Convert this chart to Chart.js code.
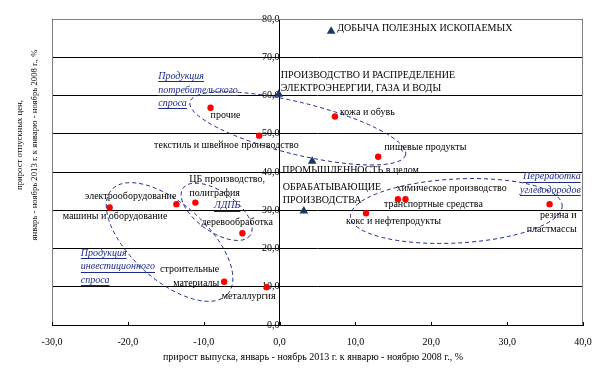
<!DOCTYPE html>
<html>
<head>
<meta charset="utf-8">
<script src="https://cdn.jsdelivr.net/npm/chart.js@4"></script>
<style>
  html, body { margin: 0; padding: 0; background: #fff; }
  #wrap { width: 608px; height: 383px; }
</style>
</head>
<body>
<div id="wrap"><canvas id="chart" width="608" height="383"></canvas></div>
<script>
// Отрасли (красные точки)
const industryNames = ["прочие","кожа и обувь","текстиль и швейное производство","пищевые продукты",
  "электрооборудование","ЦБ производство, полиграфия","машины и оборудование","деревообработка",
  "строительные материалы","металлургия","химическое производство","транспортные средства",
  "кокс и нефтепродукты","резина и пластмассы"];
const industryX = [-9.1, 7.3, -2.7, 13.0, -13.6, -11.1, -22.4, -4.9, -7.3, -1.7, 16.6, 15.6, 11.4, 35.6];
const industryY = [56.8, 54.5, 49.5, 44.0, 31.6, 32.0, 30.7, 24.0, 11.3, 9.9, 32.9, 32.9, 29.2, 31.6];

// Укрупнённые виды деятельности (треугольники)
const sectorNames = ["ДОБЫЧА ПОЛЕЗНЫХ ИСКОПАЕМЫХ","ПРОИЗВОДСТВО И РАСПРЕДЕЛЕНИЕ ЭЛЕКТРОЭНЕРГИИ, ГАЗА И ВОДЫ",
  "ПРОМЫШЛЕННОСТЬ в целом","ОБРАБАТЫВАЮЩИЕ ПРОИЗВОДСТВА"];
const sectorX = [6.8, -0.1, 4.3, 3.2];
const sectorY = [76.8, 60.3, 42.8, 29.8];

// Оси
const xTicks = [-30, -20, -10, 0, 10, 20, 30, 40];
const yTicks = [0, 10, 20, 30, 40, 50, 60, 70, 80];
const xTitle = "прирост выпуска, январь - ноябрь 2013 г. к январю - ноябрю 2008 г., %";
const yTitle = ["прирост отпускных цен,", "январь - ноябрь 2013 г. к январю - ноябрь 2008 г., %"];

// Группы (пунктирные овалы)
const groupNames = [["Продукция","потребительского","спроса"], ["Продукция","инвестиционного","спроса"],
  ["ЛДПБ"], ["Переработка","углеводородов"]];

// Подписи точек: строки, выравнивание, сдвиг в пикселях
const industryLabels = [
  {lines:["прочие"], align:"left", dx:0, dy:8},
  {lines:["кожа и обувь"], align:"left", dx:5, dy:-4},
  {lines:["текстиль и швейное производство"], align:"left", dx:-105, dy:10},
  {lines:["пищевые продукты"], align:"left", dx:6, dy:-9},
  {lines:["электрооборудование"], align:"right", dx:0, dy:-8},
  {lines:["ЦБ производство,","полиграфия"], align:"left", dx:-6, dy:-23},
  {lines:["машины и оборудование"], align:"left", dx:-47, dy:9},
  {lines:["деревообработка"], align:"left", dx:-41, dy:-11},
  {lines:["строительные","материалы"], align:"right", dx:-5, dy:-12},
  {lines:["металлургия"], align:"left", dx:-45, dy:9.5},
  {lines:["химическое производство"], align:"left", dx:-9, dy:-11},
  {lines:["транспортные средства"], align:"left", dx:-14, dy:5},
  {lines:["кокс и нефтепродукты"], align:"left", dx:-20, dy:8},
  {lines:["резина и","пластмассы"], align:"right", dx:27, dy:11.5}
];
const sectorLabels = [
  {lines:["ДОБЫЧА ПОЛЕЗНЫХ ИСКОПАЕМЫХ"], align:"left", dx:6, dy:-3},
  {lines:["ПРОИЗВОДСТВО И РАСПРЕДЕЛЕНИЕ","ЭЛЕКТРОЭНЕРГИИ, ГАЗА И ВОДЫ"], align:"left", dx:2, dy:-19},
  {lines:["ПРОМЫШЛЕННОСТЬ в целом"], align:"left", dx:-30, dy:9.5},
  {lines:["ОБРАБАТЫВАЮЩИЕ","ПРОИЗВОДСТВА"], align:"left", dx:-21, dy:-24}
];
// Подписи групп (в единицах осей) и овалы: центр в единицах осей, полуоси в px, наклон в градусах
const groupLabelPos = [
  {x:-16.0, y:65.0, align:"left"},
  {x:-26.2, y:18.8, align:"left"},
  {x:-6.9, y:31.2, align:"center"},
  {x:39.7, y:38.8, align:"right"}
];
const ellipses = [
  {x:2.4, y:51.4, rx:111, ry:26, rot:13.8},
  {x:-14.5, y:21.7, rx:78, ry:38, rot:42},
  {x:-8.3, y:29.6, rx:41, ry:20, rot:35},
  {x:23.3, y:29.8, rx:106, ry:32, rot:-3}
];

const FONT = "'Liberation Serif', 'Times New Roman', serif";
const NAVY = "#1c2a8c";

function fmt(v){
  return v.toFixed(1).replace(".", ",");
}

function drawLines(ctx, lines, x, y, align){
  ctx.textAlign = align;
  ctx.textBaseline = "middle";
  lines.forEach((t, i) => ctx.fillText(t, x, y + i * 13.5));
}

const decor = {
  id: "decor",
  beforeDatasetsDraw(chart){
    const {ctx, chartArea:a, scales} = chart;
    ctx.save();
    ctx.strokeStyle = "#808080";
    ctx.lineWidth = 1;
    ctx.beginPath();
    ctx.moveTo(a.left + 0.5, a.bottom);
    ctx.lineTo(a.left + 0.5, a.top + 0.5);
    ctx.lineTo(a.right - 0.5, a.top + 0.5);
    ctx.lineTo(a.right - 0.5, a.bottom);
    ctx.stroke();
    // короткие засечки внутрь на оси X
    ctx.strokeStyle = "#000";
    ctx.beginPath();
    xTicks.forEach(v => {
      const px = Math.round(scales.x.getPixelForValue(v)) + 0.5;
      ctx.moveTo(px, a.bottom);
      ctx.lineTo(px, a.bottom - 3);
    });
    ctx.stroke();
    ctx.restore();
  },
  afterDatasetsDraw(chart){
    const {ctx, scales} = chart;
    ctx.save();

    // овалы
    ctx.strokeStyle = NAVY;
    ctx.lineWidth = 1;
    ctx.setLineDash([4, 3]);
    ellipses.forEach(e => {
      ctx.beginPath();
      ctx.ellipse(scales.x.getPixelForValue(e.x), scales.y.getPixelForValue(e.y),
        e.rx, e.ry, e.rot * Math.PI / 180, 0, Math.PI * 2);
      ctx.stroke();
    });
    ctx.setLineDash([]);

    // подписи точек
    ctx.fillStyle = "#000";
    ctx.font = "10px " + FONT;
    const m0 = chart.getDatasetMeta(0).data;
    industryLabels.forEach((l, i) => drawLines(ctx, l.lines, m0[i].x + l.dx, m0[i].y + l.dy, l.align));
    const m1 = chart.getDatasetMeta(1).data;
    sectorLabels.forEach((l, i) => drawLines(ctx, l.lines, m1[i].x + l.dx, m1[i].y + l.dy, l.align));

    // подписи групп
    ctx.fillStyle = NAVY;
    ctx.strokeStyle = NAVY;
    ctx.font = "italic 10px " + FONT;
    groupNames.forEach((lines, i) => {
      const p = groupLabelPos[i];
      const x = scales.x.getPixelForValue(p.x);
      const y = scales.y.getPixelForValue(p.y);
      drawLines(ctx, lines, x, y, p.align);
      lines.forEach((t, j) => {
        const w = ctx.measureText(t).width;
        const x0 = p.align === "left" ? x : p.align === "right" ? x - w : x - w / 2;
        const yy = Math.round(y + j * 13.5 + 5) + 0.5;
        ctx.beginPath();
        ctx.moveTo(x0, yy);
        ctx.lineTo(x0 + w, yy);
        ctx.stroke();
      });
    });

    // названия осей
    ctx.fillStyle = "#000";
    ctx.font = "10px " + FONT;
    ctx.textAlign = "center";
    ctx.textBaseline = "middle";
    ctx.fillText(xTitle, 313, 357);
    ctx.font = "8.7px " + FONT;
    ctx.translate(20, 145);
    ctx.rotate(-Math.PI / 2);
    ctx.fillText(yTitle[0], 0, 0);
    ctx.fillText(yTitle[1], 0, 15);
    ctx.restore();
  }
};

new Chart(document.getElementById("chart"), {
  type: "scatter",
  data: {
    datasets: [
      {
        label: "отрасли",
        data: industryX.map((x, i) => ({x: x, y: industryY[i]})),
        pointStyle: "circle",
        pointRadius: 3.2,
        backgroundColor: "#ff0000",
        borderColor: "#ff0000",
        borderWidth: 0
      },
      {
        label: "виды деятельности",
        data: sectorX.map((x, i) => ({x: x, y: sectorY[i]})),
        pointStyle: "triangle",
        pointRadius: 5,
        backgroundColor: "#1b3766",
        borderColor: "#1b3766",
        borderWidth: 0
      }
    ]
  },
  options: {
    responsive: false,
    animation: false,
    layout: { padding: { left: 52, right: 25, top: 19, bottom: 0 } },
    plugins: { legend: { display: false }, tooltip: { enabled: false } },
    scales: {
      x: {
        type: "linear",
        min: xTicks[0],
        max: xTicks[xTicks.length - 1],
        afterBuildTicks: s => { s.ticks = xTicks.map(v => ({value: v})); },
        afterFit: s => { s.height = 58; },
        grid: { display: false, drawTicks: false },
        border: { display: true, color: "#000", width: 1 },
        ticks: {
          padding: 11,
          color: "#000",
          font: { family: FONT, size: 10 },
          maxRotation: 0,
          callback: v => fmt(v)
        }
      },
      y: {
        type: "linear",
        position: { x: 0 },
        min: yTicks[0],
        max: yTicks[yTicks.length - 1],
        afterBuildTicks: s => { s.ticks = yTicks.map(v => ({value: v})); },
        grid: { color: "#000", lineWidth: 1, drawTicks: false },
        border: { display: true, color: "#000", width: 1 },
        ticks: {
          padding: 7,
          color: "#000",
          font: { family: FONT, size: 10 },
          callback: v => fmt(v)
        }
      }
    }
  },
  plugins: [decor]
});
</script>
</body>
</html>
